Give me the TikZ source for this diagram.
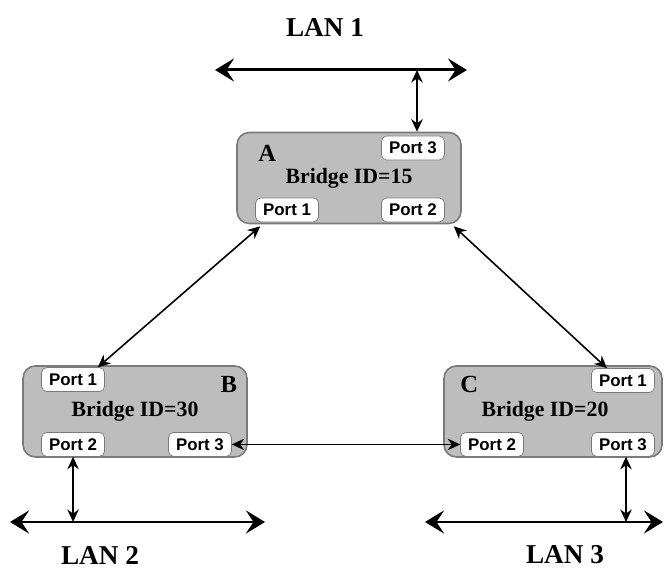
\documentclass[tikz,border=0pt]{standalone}
\usepackage{fontspec}
\setmainfont{Liberation Serif}
\newfontfamily\portfont{Liberation Sans}
\usepackage{tikz}
\usetikzlibrary{arrows.meta,positioning}
\definecolor{BoxGray}{HTML}{BDBDBD}
\definecolor{EdgeGray}{HTML}{7A7A7A}

\begin{document}
\begin{tikzpicture}[
    bridge/.style={draw=EdgeGray,fill=BoxGray,rounded corners=7pt,line width=0.9pt,
      minimum width=4.48cm,minimum height=1.82cm},
    port/.style={draw=EdgeGray,fill=white,rounded corners=3pt,minimum width=1.26cm,
      minimum height=0.48cm,inner sep=1pt,font=\portfont\bfseries\fontsize{9.6}{10}\selectfont},
    bid/.style={font=\bfseries\fontsize{12.4}{14}\selectfont},
    tag/.style={font=\bfseries\fontsize{14}{16}\selectfont},
    lantxt/.style={font=\bfseries\fontsize{15.5}{17}\selectfont},
    lan/.style={{Stealth[length=3.8mm,width=4.6mm,inset=1.5mm]}-{Stealth[length=3.8mm,width=4.6mm,inset=1.5mm]},line width=1.7pt},
    arr/.style={{Stealth[length=2.5mm,width=2.3mm]}-{Stealth[length=2.5mm,width=2.3mm]},line width=0.9pt}
  ]
    \useasboundingbox (0,0) rectangle (13.28,11.44);

    % the three bridges
    \node[bridge] (A) at (6.98,7.88) {};
    \node[bridge] (B) at (2.70,3.21) {};
    \node[bridge,minimum width=4.36cm] (C) at (11.06,3.21) {};

    \node[bid] at (A.center) {Bridge ID=15};
    \node[bid] at (B.center) {Bridge ID=30};
    \node[bid] at ([xshift=-0.16cm]C.center) {Bridge ID=20};

    \node[tag] (tA) at ([xshift=0.62cm,yshift=-0.44cm]A.north west) {A};
    \node[tag] (tB) at ([xshift=-0.38cm,yshift=-0.38cm]B.north east) {B};
    \node[tag] (tC) at ([xshift=0.52cm,yshift=-0.38cm]C.north west) {C};

    % ports
    \node[port,below left=0.08cm and 0.34cm of A.north east] (A3) {Port 3};
    \node[port,above right=0.04cm and 0.38cm of A.south west] (A1) {Port 1};
    \node[port,above left=0.04cm and 0.34cm of A.south east] (A2) {Port 2};

    \node[port,below right=0.04cm and 0.38cm of B.north west] (B1) {Port 1};
    \node[port,above right=0.02cm and 0.38cm of B.south west] (B2) {Port 2};
    \node[port,above left=0.02cm and 0.32cm of B.south east] (B3) {Port 3};

    \node[port,below left=0.06cm and 0.16cm of C.north east] (C1) {Port 1};
    \node[port,above right=0.02cm and 0.34cm of C.south west] (C2) {Port 2};
    \node[port,above left=0.02cm and 0.16cm of C.south east] (C3) {Port 3};

    % LAN segments
    \coordinate (l1a) at (4.30,10.04);
    \coordinate (l1b) at (9.34,10.04);
    \coordinate (l2a) at (0.20,1.00);
    \coordinate (l2b) at (5.30,1.00);
    \coordinate (l3a) at (8.50,1.00);
    \coordinate (l3b) at (13.26,1.00);
    \draw[lan] (l1a) -- (l1b);
    \draw[lan] (l2a) -- (l2b);
    \draw[lan] (l3a) -- (l3b);

    \node[lantxt] (n1) at (6.50,10.88) {LAN 1};
    \node[lantxt] (n2) at (2.00,0.34) {LAN 2};
    \node[lantxt] (n3) at (11.30,0.34) {LAN 3};

    % taps from each LAN to its bridge
    \coordinate (t1) at (8.34,10.04);
    \coordinate (t3) at (12.52,1.00);
    \draw[arr] (t1) -- (t1 |- A.north);
    \draw[arr] (B2.south) -- (B2.south |- l2a);
    \draw[arr] (t3 |- C3.south) -- (t3);

    % links between bridges
    \draw[arr] ([xshift=0.1cm,yshift=-0.08cm]A1.south west) -- ([xshift=-0.14cm]B1.north east);
    \draw[arr] ([xshift=0.18cm,yshift=-0.08cm]A2.south east) -- ([xshift=-0.32cm]C1.north);
    \draw[arr] (B3.east) -- (C2.west);
\end{tikzpicture}
\end{document}
